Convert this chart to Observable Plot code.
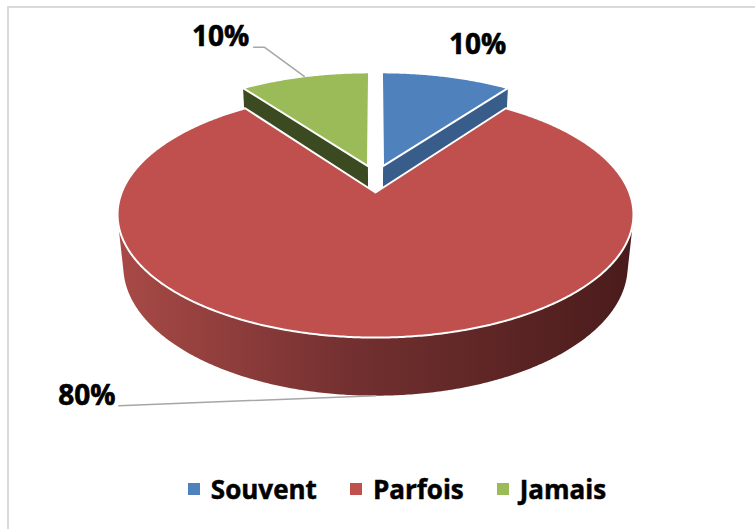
<!DOCTYPE html>
<html>
<head>
<meta charset="utf-8">
<script src="https://cdn.jsdelivr.net/npm/d3@7"></script>
<script src="https://cdn.jsdelivr.net/npm/@observablehq/plot@0.6"></script>
<style>
  html, body { margin: 0; padding: 0; background: #fff; overflow: hidden; width: 755px; height: 529px; }
  #frame { position: absolute; left: 7px; top: 6px; width: 800px; height: 600px;
           border-top: 2px solid #d9d9d9; border-left: 2px solid #d9d9d9; }
  #chart { position: absolute; left: 0; top: 0; }
  #legend { position: absolute; left: 0; top: 472px; width: 755px; box-sizing: border-box;
            padding-left: 39px; display: flex; justify-content: center; align-items: center;
            font-family: "Open Sans", sans-serif; font-weight: bold; font-size: 26px; line-height: 34px; color: #000;
            -webkit-text-stroke: 0.5px #000; }
  #legend .item { display: flex; align-items: center; margin-right: 33px; }
  #legend .item:last-child { margin-right: 0; }
  #legend .sw { width: 12px; height: 12px; margin-right: 11px; display: inline-block; }
</style>
</head>
<body>
<div id="frame"></div>
<div id="chart"></div>
<div id="legend"></div>
<script>
// ---- data ----
const categories = ["Souvent", "Parfois", "Jamais"];
const values = [10, 80, 10];
const labels = ["10%", "80%", "10%"];

// ---- styles ----
const colors = ["#4f81bd", "#c0504d", "#9bbb59"];
const sideColors = ["#385d8a", "url(#redSide)", "#3b4a20"];

// ---- 3D view configuration ----
const W = 755, H = 468;
const K = 253.8;            // pixels per unit radius
const CX = 375, CY = 192;   // pie centre in the picture
const tilt = 28, dist = 4.94, depth = 0.233;
const explode = [[0.031, 0.23], [0, 0], [-0.031, 0.23]];
const labelShift = [0, 43.8, -7.1];      // degrees from slice mid-angle
const labelRadius = [1.67, 1.386, 1.875];
const labelLevel = [0, 1, 0];            // 0 = top plane, 1 = bottom plane
const leaderStart = [null, [32, 10], [33, 10]];  // px from label centre
const leaderKnee = [null, null, [44, 10]];

const deg = Math.PI / 180;
const ca = Math.cos(tilt * deg), sa = Math.sin(tilt * deg);
function proj(X, Z, level) {
  const h = -level * depth;
  const yv = h * ca + Z * sa, zv = Z * ca - h * sa;
  const s = dist / (dist + zv);
  return [X * s, -yv * s];
}
const cam = [0, dist * sa, -dist * ca];
function rim(a, o, r = 1) { return [o[0] + r * Math.sin(a), o[1] + r * Math.cos(a)]; }
function arcPts(a0, a1) {
  const n = Math.max(2, Math.ceil((a1 - a0) / (0.5 * deg)));
  return d3.range(n + 1).map(i => a0 + (a1 - a0) * i / n);
}

const arcs = d3.pie().sort(null).value(d => d)(values);
const sides = [], tops = [], leaders = [];
const push = (arr, id, fill, pts) => pts.forEach(p => arr.push({id, fill, x: p[0], y: p[1]}));

arcs.forEach((arc, i) => {
  const o = explode[i];
  const a0 = arc.startAngle, a1 = arc.endAngle;
  // radial faces (only those facing the viewer)
  [[a0, -1], [a1, 1]].forEach(([a, sgn], j) => {
    const n = [sgn * Math.cos(a), 0, -sgn * Math.sin(a)];
    if (n[0] * cam[0] + n[2] * cam[2] > 1e-6) {
      const r = rim(a, o);
      push(sides, `r${i}${j}`, sideColors[i],
        [proj(o[0], o[1], 0), proj(r[0], r[1], 0), proj(r[0], r[1], 1), proj(o[0], o[1], 1)]);
    }
  });
  // outer curved face, visible part only
  const c = -1 / (dist * ca);
  const v0 = Math.acos(c), v1 = 2 * Math.PI - v0;
  const s0 = Math.max(a0, v0), s1 = Math.min(a1, v1);
  if (s1 > s0) {
    const as = arcPts(s0, s1);
    push(sides, `o${i}`, sideColors[i], [
      ...as.map(a => { const r = rim(a, o); return proj(r[0], r[1], 0); }),
      ...as.slice().reverse().map(a => { const r = rim(a, o); return proj(r[0], r[1], 1); })
    ]);
  }
  // top face
  push(tops, `t${i}`, colors[i], [
    proj(o[0], o[1], 0),
    ...arcPts(a0, a1).map(a => { const r = rim(a, o); return proj(r[0], r[1], 0); })
  ]);
});

const labelData = arcs.map((arc, i) => {
  const mid = (arc.startAngle + arc.endAngle) / 2;
  const a = mid + labelShift[i] * deg, r = labelRadius[i];
  const [x, y] = proj(r * Math.sin(a), r * Math.cos(a), labelLevel[i]);
  return {x, y, text: labels[i]};
});

arcs.forEach((arc, i) => {
  if (!leaderStart[i]) return;
  const L = labelData[i];
  const pts = [[L.x + leaderStart[i][0] / K, L.y + leaderStart[i][1] / K]];
  if (leaderKnee[i]) pts.push([L.x + leaderKnee[i][0] / K, L.y + leaderKnee[i][1] / K]);
  const mid = (arc.startAngle + arc.endAngle) / 2;
  const r = rim(mid, explode[i]);
  pts.push(proj(r[0], r[1], labelLevel[i]));
  pts.forEach(p => leaders.push({id: i, x: p[0], y: p[1]}));
});

const plot = Plot.plot({
  width: W, height: H, margin: 0,
  x: {domain: [-CX / K, (W - CX) / K], range: [0, W], axis: null},
  y: {domain: [-CY / K, (H - CY) / K], range: [0, H], axis: null},
  color: {type: "identity"},
  style: {background: "transparent", overflow: "visible"},
  marks: [
    Plot.line(sides, {x: "x", y: "y", z: "id", fill: "fill", stroke: "none", curve: "linear-closed"}),
    Plot.line(tops, {x: "x", y: "y", z: "id", fill: "fill", stroke: "white", strokeWidth: 2,
                     strokeLinejoin: "round", curve: "linear-closed"}),
    Plot.line(leaders, {x: "x", y: "y", z: "id", stroke: "#a6a6a6", strokeWidth: 1.5}),
    Plot.text(labelData, {x: "x", y: "y", text: "text", fontSize: 28, fontWeight: "bold",
                          fill: "#000", stroke: "#000", strokeWidth: 0.6, fontFamily: "Open Sans"})
  ]
});

const svg = d3.select(plot);
const grad = svg.insert("defs", ":first-child").append("linearGradient")
  .attr("id", "redSide").attr("x1", 0).attr("x2", 1).attr("y1", 0).attr("y2", 0);
grad.append("stop").attr("offset", "0%").attr("stop-color", "#a84a46");
grad.append("stop").attr("offset", "45%").attr("stop-color", "#733030");
grad.append("stop").attr("offset", "100%").attr("stop-color", "#4a1b1b");

document.getElementById("chart").appendChild(plot);

const legend = d3.select("#legend");
categories.forEach((c, i) => {
  const item = legend.append("div").attr("class", "item");
  item.append("span").attr("class", "sw").style("background", colors[i]);
  item.append("span").text(c);
});
</script>
</body>
</html>
